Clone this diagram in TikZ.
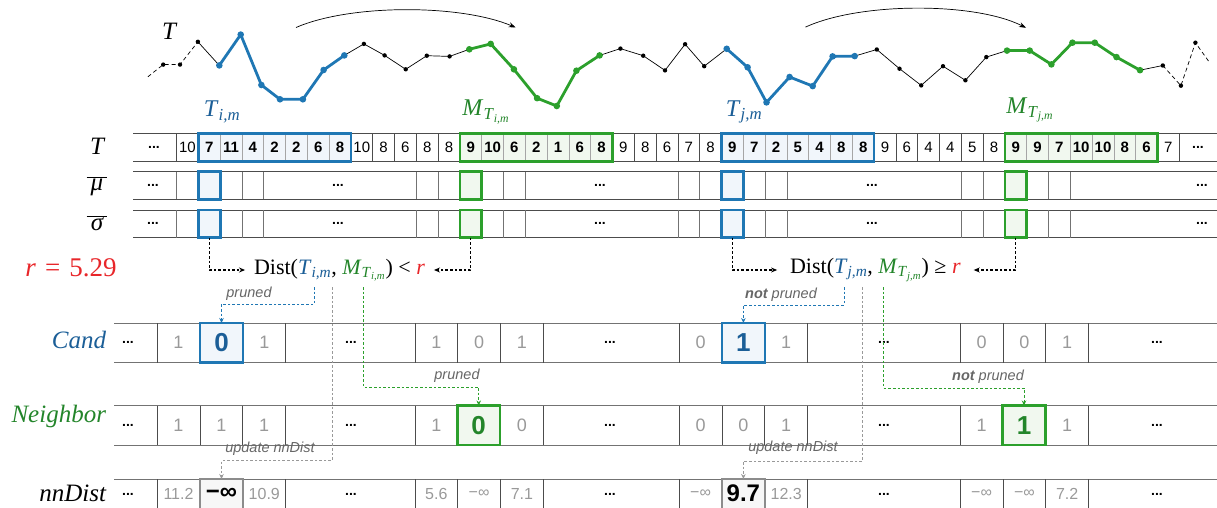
\documentclass[tikz,border=0pt]{standalone}
\usepackage{fontspec}
\setmainfont{Liberation Serif}
\newfontfamily\arial{Liberation Sans}
\usetikzlibrary{arrows.meta}
\definecolor{cblue}{HTML}{1F77B4}
\definecolor{cgreen}{HTML}{2CA02C}
\definecolor{dblue}{HTML}{1B5E97}
\definecolor{dgreen}{HTML}{23852A}
\definecolor{fblue}{HTML}{F1F6FB}
\definecolor{fgreen}{HTML}{F1F8EF}
\definecolor{cred}{HTML}{E8262A}
\definecolor{lgray}{HTML}{999999}
\definecolor{mgray}{HTML}{666666}
\newcommand\Tsub[1]{\textit{T}\textsubscript{\textit{#1}}}
\newcommand\Msub[1]{\textit{M}\textsubscript{\textit{T}\textsubscript{\textit{#1}}}}
\newcommand\fs[1]{\fontsize{#1}{#1}\selectfont}
\begin{document}
\begin{tikzpicture}[x=1pt,y=-1pt,
  every node/.style={inner sep=0pt,outer sep=0pt},
  hline/.style={draw=black!70,line width=0.8pt},
  vline/.style={draw=black!70,line width=0.8pt},
  vin/.style={draw=black!35,line width=0.8pt},
  tnum/.style={font=\arial\fs{15}},
  tbold/.style={font=\arial\bfseries\fs{15}},
  dots/.style={font=\arial\bfseries\fs{14}},
  gnum/.style={font=\arial\fs{18},text=lgray},
  nnum/.style={font=\arial\fs{16},text=lgray},
  hlb/.style={draw=cblue,line width=2.6pt,fill=fblue},
  hlg/.style={draw=cgreen,line width=2.6pt,fill=fgreen},
  hlk/.style={draw=black!45,line width=2.6pt,fill=black!3},
  rowlab/.style={font=\fs{25}\itshape},
  darrow/.style={draw=black,line width=1.1pt,dash pattern=on 2.6pt off 2pt,-{Stealth[length=6pt,width=5pt]}},
  bdash/.style={draw=cblue,line width=1pt,dash pattern=on 2.6pt off 2pt,-{Stealth[length=5pt,width=4.5pt]}},
  gdash/.style={draw=cgreen,line width=1pt,dash pattern=on 2.6pt off 2pt,-{Stealth[length=5pt,width=4.5pt]}},
  kdash/.style={draw=lgray,line width=1pt,dash pattern=on 2.6pt off 2pt,-{Stealth[length=5pt,width=4.5pt]}},
  note/.style={font=\arial\itshape\fs{14.5},text=mgray},
  serie/.style={draw=black,line width=0.7pt},
  sblue/.style={draw=cblue,line width=2.8pt,line join=round},
  sgreen/.style={draw=cgreen,line width=2.8pt,line join=round}]
\useasboundingbox (0,0) rectangle (1217,508);
\clip (0,0) rectangle (1217,508);

% ---------------- time series ----------------
\node[font=\fs{25}\itshape] (Ttop) at (169,31) {T};
\foreach \n/\x/\y in {p1/147.9/76.8,p2/163.2/64.6,p3/180/64.6,p4/197.9/41.8,
  b1/219.3/65.4,b2/240.7/34.6,b3/261.4/85,b4/280/99.3,b5/302.9/99.3,b6/323.6/70,b7/344.3/55.4,
  p5/363.9/43.9,p6/384.6/55.4,p7/405.7/69.3,p8/426.8/55.7,p9/449.6/56.4,
  g1/469.3/49.3,g2/490.7/43.9,g3/513.9/69.3,g4/537.1/98.2,g5/556.8/106,g6/576.4/70.7,g7/599.6/55.4,
  p10/620.4/48.6,p11/643.2/55.7,p12/665/70.4,p13/685.1/44.2,p14/704.2/66.2,
  B1/726.7/48.8,B2/747.6/67.3,B3/766.5/102.4,B4/789.6/77,B5/812.7/86.1,B6/832.6/56.4,B7/854.7/56.1,
  p15/876.8/49.5,p16/899.5/68.7,p17/921.2/85.4,p18/943/66.2,p19/965.4/80.3,p20/986.3/57.1,
  G1/1007/50.6,G2/1029.7/50.6,G3/1051.4/64.4,G4/1072.4/42.7,G5/1094.8/42.7,G6/1116.5/57.1,G7/1140/70.2,
  p21/1162.8/65.5,p22/1180.9/85.7,p23/1195.4/42.7,p24/1208.8/61.5}
  {\coordinate (\n) at (\x,\y);}
\draw[serie,dash pattern=on 4pt off 3pt] (p1)--(p2)--(p3)--(p4);
\draw[serie] (p4)--(b1) (b7)--(p5)--(p6)--(p7)--(p8)--(p9)--(g1) (g7)--(p10)--(p11)--(p12)--(p13)--(p14)--(B1)
  (B7)--(p15)--(p16)--(p17)--(p18)--(p19)--(p20)--(G1) (G7)--(p21);
\draw[serie,dash pattern=on 4pt off 3pt] (p21)--(p22)--(p23)--(p24);
\draw[sblue] (b1)--(b2)--(b3)--(b4)--(b5)--(b6)--(b7);
\draw[sblue] (B1)--(B2)--(B3)--(B4)--(B5)--(B6)--(B7);
\draw[sgreen] (g1)--(g2)--(g3)--(g4)--(g5)--(g6)--(g7);
\draw[sgreen] (G1)--(G2)--(G3)--(G4)--(G5)--(G6)--(G7);
\foreach \n in {p2,p3,p4,p5,p6,p7,p8,p9,p10,p11,p12,p13,p14,p15,p16,p17,p18,p19,p20,p21,p22,p23}
  {\fill (\n) circle (2.2);}
\foreach \n in {b1,b2,b3,b4,b5,b6,b7,B1,B2,B3,B4,B5,B6,B7} {\fill[cblue] (\n) circle (3.3);}
\foreach \n in {g1,g2,g3,g4,g5,g6,g7,G1,G2,G3,G4,G5,G6,G7} {\fill[cgreen] (\n) circle (3.3);}
\coordinate (arcAs) at (296,27.5); \coordinate (arcAe) at (515.7,27.5);
\coordinate (arcBs) at (805.5,27.1); \coordinate (arcBe) at (1026,27.8);
\draw[line width=0.7pt,-{Stealth[length=7pt,width=5pt]}] (arcAs) .. controls (350,4) and (460,4) .. (arcAe);
\draw[line width=0.7pt,-{Stealth[length=7pt,width=5pt]}] (arcBs) .. controls (860,2) and (975,2) .. (arcBe);

% ---------------- labels above T row ----------------
\node[font=\fs{24},text=dblue] (lTi) at (222,112) {\Tsub{i,m}};
\node[font=\fs{24},text=dgreen] (lMi) at (486,112) {\Msub{i,m}};
\node[font=\fs{24},text=dblue] (lTj) at (744,112) {\Tsub{j,m}};
\node[font=\fs{24},text=dgreen] (lMj) at (1030,110) {\Msub{j,m}};

% ---------------- left labels ----------------
\node[rowlab] (labT) at (97,146) {T};
\node[font=\fs{25}] (labMu) at (97,186) {$\overline{\hbox{\itshape\,μ\,}}$};
\node[font=\fs{25}] (labSg) at (97,223) {$\overline{\hbox{\itshape\,σ\,}}$};
\node[font=\fs{27},text=cred] (labR) at (71,268) {\textit{r}\hspace{9pt}=\hspace{9pt}5.29};

% ---------------- T row ----------------
\fill[fblue] (198.3,133.3) rectangle (350.9,161.7);
\fill[fgreen] (459.9,133.3) rectangle (612.5,161.7);
\fill[fblue] (721.5,133.3) rectangle (874.1,161.7);
\fill[fgreen] (1004.9,133.3) rectangle (1157.5,161.7);
\draw[hline] (133,133.3) -- (1217,133.3);
\draw[hline] (133,161.7) -- (1217,161.7);
\foreach \k in {0,...,46} {\draw[vline] ({176.5+21.8*\k},133.3) -- ++(0,28.4);}
\foreach \k in {2,...,7,14,15,...,19,26,27,...,31,39,40,...,44} {\draw[vin] ({176.5+21.8*\k},134.5) -- ++(0,26);}
\node[draw=cblue,line width=2.6pt,minimum width=152.6pt,minimum height=28.4pt] (tBI) at (274.6,147.5) {};
\node[draw=cgreen,line width=2.6pt,minimum width=152.6pt,minimum height=28.4pt] (tGI) at (536.2,147.5) {};
\node[draw=cblue,line width=2.6pt,minimum width=152.6pt,minimum height=28.4pt] (tBJ) at (797.8,147.5) {};
\node[draw=cgreen,line width=2.6pt,minimum width=152.6pt,minimum height=28.4pt] (tGJ) at (1081.2,147.5) {};
\node[dots] (tdl) at (154,147.5) {...};
\node[dots] (tdr) at (1198,147.5) {...};
\foreach \v/\b [count=\k from 0] in {10/0,7/1,11/1,4/1,2/1,2/1,6/1,8/1,10/0,8/0,6/0,8/0,8/0,9/1,10/1,6/1,2/1,1/1,6/1,8/1,9/0,8/0,6/0,7/0,8/0,9/1,7/1,2/1,5/1,4/1,8/1,8/1,9/0,6/0,4/0,4/0,5/0,8/0,9/1,9/1,7/1,10/1,10/1,8/1,6/1,7/0}
  {\ifnum\b=1 \node[tbold] (t\k) at ({187.4+21.8*\k},147.5) {\v};
   \else \node[tnum] (t\k) at ({187.4+21.8*\k},147.5) {\v}; \fi}

% ---------------- mu / sigma rows ----------------
\foreach \r/\ya/\yb in {mu/171.7/199.3,sg/210/237.7}{
  \draw[hline] (133,\ya) -- (1217,\ya);
  \draw[hline] (133,\yb) -- (1217,\yb);
  \foreach \k in {0,3,4,11,12,15,16,23,24,27,28,36,37,40,41}
    {\draw[draw=black!55,line width=0.8pt] ({176.5+21.8*\k},\ya) -- (176.5+21.8*\k,\yb);}
}
\foreach \r/\yc in {mu/185.5,sg/223.85}{
  \node[hlb,minimum width=21.8pt,minimum height=27.6pt] (\r BI) at (209.4,\yc) {};
  \node[hlg,minimum width=21.8pt,minimum height=27.6pt] (\r GI) at (470.8,\yc) {};
  \node[hlb,minimum width=21.8pt,minimum height=27.6pt] (\r BJ) at (732.4,\yc) {};
  \node[hlg,minimum width=21.8pt,minimum height=27.6pt] (\r GJ) at (1015.8,\yc) {};
  \node[dots] (\r d1) at (153,\yc) {...};
  \node[dots] (\r d2) at (338,\yc) {...};
  \node[dots] (\r d3) at (600,\yc) {...};
  \node[dots] (\r d4) at (872,\yc) {...};
  \node[dots] (\r d5) at (1202,\yc) {...};
}

% ---------------- Dist expressions ----------------
\node[font=\fs{22},inner xsep=9pt] (distI) at (339.5,270) {Dist(\textcolor{dblue}{\Tsub{i,m}}, \textcolor{dgreen}{\Msub{i,m}}) < \textcolor{cred}{\textit{r}}};
\node[font=\fs{22},inner xsep=13pt] (distJ) at (875.4,270) {Dist(\textcolor{dblue}{\Tsub{j,m}}, \textcolor{dgreen}{\Msub{j,m}}) ≥ \textcolor{cred}{\textit{r}}};
\draw[darrow] (sgBI.south) |- (distI.west);
\draw[darrow] (sgGI.south) |- (distI.east);
\draw[darrow] (sgBJ.south) |- (distJ.west);
\draw[darrow] (sgGJ.south) |- (distJ.east);

% ---------------- Cand / Neighbor / nnDist rows ----------------
\node[rowlab,text=dblue,anchor=east] (labC) at (106,340) {Cand};
\node[rowlab,text=dgreen,anchor=east] (labN) at (106,416) {Neighbor};
\node[rowlab,anchor=east] (labD) at (106,493) {nnDist};
\foreach \ya/\yb in {323/362.5,405.5/445,479/518.5}{
  \draw[hline,draw=black!55] (114,\ya) -- (1217,\ya);
  \draw[hline,draw=black!55] (114,\yb) -- (1217,\yb);
  \foreach \g in {157.1,414.9,679.2,960.2}{
    \foreach \i in {0,1,2,3} {\draw[draw=black!70,line width=0.8pt] ({\g+42.8*\i},\ya) -- ({\g+42.8*\i},\yb);}
  }
}
% highlight boxes
\node[hlb,minimum width=42.8pt,minimum height=39.5pt,font=\arial\bfseries\fs{26},text=dblue] (candI) at (221.5,342.75) {0};
\node[hlb,minimum width=42.8pt,minimum height=39.5pt,font=\arial\bfseries\fs{26},text=dblue] (candJ) at (743.4,342.75) {1};
\node[hlg,minimum width=42.8pt,minimum height=39.5pt,font=\arial\bfseries\fs{26},text=dgreen] (nbI) at (478.7,425.25) {0};
\node[hlg,minimum width=42.8pt,minimum height=39.5pt,font=\arial\bfseries\fs{26},text=dgreen] (nbJ) at (1024,425.25) {1};
\node[hlk,minimum width=42.8pt,minimum height=39.5pt] (nnI) at (221.5,498.75) {};
\node[hlk,minimum width=42.8pt,minimum height=39.5pt] (nnJ) at (743.4,498.75) {};
\node[font=\arial\bfseries\fs{24}] (nnIv) at (221.5,493.5) {−∞};
\node[font=\arial\bfseries\fs{24}] (nnJv) at (743.4,493.5) {9.7};
% dots
\foreach \r/\yc in {c/342.75,n/425.25,d/494}{
  \node[dots] (\r e1) at (128,\yc) {...};
  \node[dots] (\r e2) at (351,\yc) {...};
  \node[dots] (\r e3) at (610,\yc) {...};
  \node[dots] (\r e4) at (884,\yc) {...};
  \node[dots] (\r e5) at (1157,\yc) {...};
}
% values
\foreach \x/\v [count=\k] in {178.5/1,264.3/1,436.3/1,479.1/0,521.9/1,700.6/0,786.2/1,981.6/0,1024.4/0,1067.2/1}
  {\node[gnum] (cv\k) at (\x,342.75) {\v};}
\foreach \x/\v [count=\k] in {178.5/1,221.3/1,264.1/1,436.3/1,521.9/0,700.6/0,743.4/0,786.2/1,981.6/1,1067.2/1}
  {\node[gnum] (nv\k) at (\x,425.25) {\v};}
\foreach \x/\v [count=\k] in {178.5/11.2,264.3/10.9,436.3/5.6,479.1/−∞,521.9/7.1,700.6/−∞,786.2/12.3,981.6/−∞,1024.4/−∞,1067.2/7.2}
  {\node[nnum] (dv\k) at (\x,493.5) {\v};}

% ---------------- connectors to lower rows ----------------
\coordinate (bsI) at (314.6,287); \coordinate (gsI) at (332.2,287); \coordinate (grI) at (363.6,287);
\coordinate (bsJ) at (844,287); \coordinate (gsJ) at (862.8,287); \coordinate (grJ) at (883.5,287);
\draw[kdash] (gsI) -- ++(0,173.5) -| (nnI.north);
\draw[kdash] (gsJ) -- ++(0,174) -| (nnJ.north);
\draw[bdash] (bsI) -- ++(0,17) -| (candI.north);
\draw[bdash] (bsJ) -- ++(0,18) -| (candJ.north);
\draw[gdash] (grI) -- ++(0,100) -| (nbI.north);
\draw[gdash] (grJ) -- ++(0,101) -| (nbJ.north);
\node[note] (nP1) at (249,294) {pruned};
\node[note] (nP2) at (781,295) {\textbf{not} pruned};
\node[note] (nP3) at (457,376) {pruned};
\node[note] (nP4) at (988,377) {\textbf{not} pruned};
\node[note] (nU1) at (270,449) {update nnDist};
\node[note] (nU2) at (793,448) {update nnDist};
\end{tikzpicture}
\end{document}
